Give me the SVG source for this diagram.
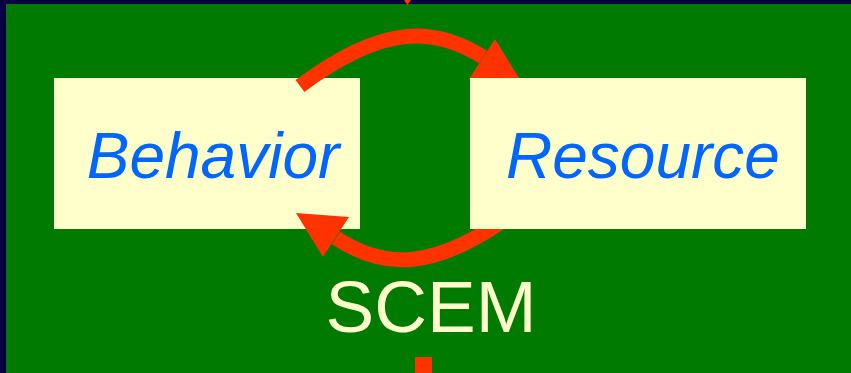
<svg xmlns="http://www.w3.org/2000/svg" width="851" height="373" viewBox="0 0 851 373">
<style>
.box{fill:#FFFFCC;}
.lbl{font-family:"Liberation Sans",Arial,sans-serif;font-style:italic;font-size:64px;fill:#0066FF;text-anchor:middle;}
.arc{fill:none;stroke:#FF3300;stroke-width:15;}
.head{fill:#FF3300;}
.title{font-family:"Liberation Sans",Arial,sans-serif;font-size:73px;fill:#FFFFCC;text-anchor:middle;}
</style>
<rect x="0" y="0" width="851" height="373" fill="#060040"/>
<rect x="6" y="4" width="845" height="369" fill="#007A00"/>
<polygon points="404,0 411,0 407.5,5" fill="#FF3300"/>
<rect x="415" y="357" width="17" height="16" fill="#FF3300"/>
<g id="behavior">
<rect class="box" x="54" y="78" width="306" height="151"/>
<text class="lbl" x="213" y="178">Behavior</text>
</g>
<g id="connectors">
<path class="arc" d="M300,86 C384,23 435,27 483,57"/>
<polygon class="head" points="495,39 469,79 522,83"/>
<path class="arc" d="M518,210 C434,273 383,269 336,238"/>
<polygon class="head" points="296,213 349,217 323,257"/>
</g>
<g id="resource">
<rect class="box" x="470" y="78" width="336" height="151"/>
<text class="lbl" x="643" y="178">Resource</text>
</g>
<g id="scem">
<text class="title" x="431" y="332">SCEM</text>
</g>
</svg>
